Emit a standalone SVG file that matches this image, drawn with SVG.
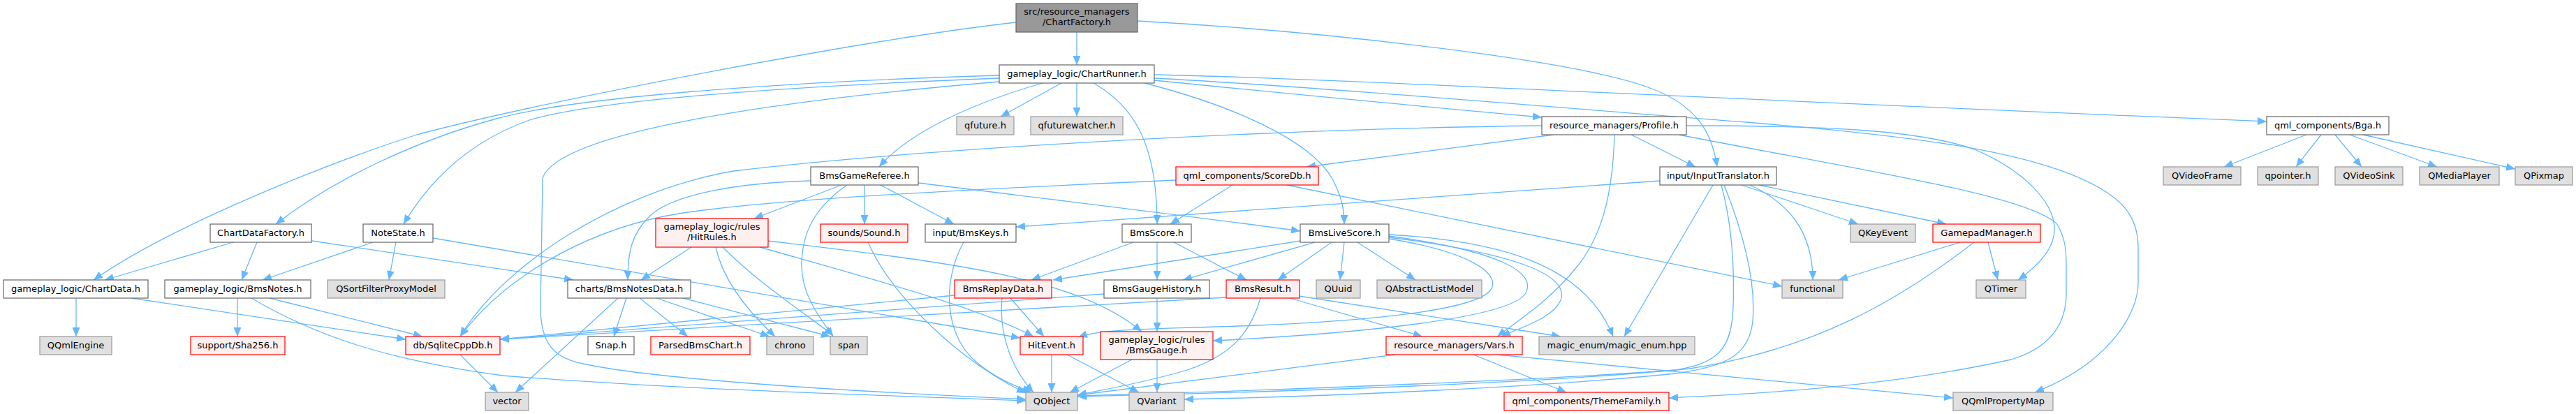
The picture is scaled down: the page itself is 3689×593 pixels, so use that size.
<svg xmlns="http://www.w3.org/2000/svg" width="3689" height="593" viewBox="0 0 3689 593">
<style>
.n rect{fill:#ffffff;stroke:#666666;stroke-width:1.2}
.g rect{fill:#e0e0e0;stroke:#999999;stroke-width:1.2}
.r rect{fill:#fff0f0;stroke:#ff0000;stroke-width:1.2}
.root rect{fill:#999999;stroke:#666666;stroke-width:1.2}
text{font-family:"DejaVu Sans","Liberation Sans",sans-serif;font-size:13px;fill:#000000;text-anchor:middle}
#edges path{fill:none;stroke:#63b8ff;stroke-width:1.3;marker-end:url(#arr)}
</style>
<defs>
<marker id="arr" markerUnits="userSpaceOnUse" viewBox="0 0 13 11" refX="13" refY="5.5" markerWidth="13" markerHeight="11" orient="auto">
<path d="M0,0 L13,5.5 L0,11 z" fill="#63b8ff"/>
</marker>
</defs>
<rect x="0" y="0" width="3689" height="593" fill="#ffffff"/>
<g id="edges">
<path d="M1542,46 L1542,93"/>
<path d="M1455,32 C1250,55 800,140 600,192 C480,230 250,320 134,401"/>
<path d="M1629,30 C1900,45 2250,85 2360,125 C2430,150 2452,190 2459,239"/>
<path d="M1431,108 C1100,118 820,140 711,170 C600,200 480,255 395,321"/>
<path d="M1431,112 C1100,125 850,145 758,172 C680,200 620,250 578,321"/>
<path d="M1431,117 C1100,145 800,190 777,255 L774,445 C776,500 800,515 840,522 C950,545 1250,562 1469,572"/>
<path d="M1493,119 C1420,140 1310,180 1259,239"/>
<path d="M1520,119 L1433,167"/>
<path d="M1542,119 L1542,167"/>
<path d="M1566,119 C1620,150 1657,200 1657,321"/>
<path d="M1653,107 C1900,112 2300,135 3246,174"/>
<path d="M1653,112 C1900,125 2300,160 2500,175 C2750,195 2950,220 3030,285 C3055,305 3062,330 3062,355 L3062,405 C3062,450 3020,520 2914,562"/>
<path d="M1653,115 Q1900,140 2208,168"/>
<path d="M1639,119 C1760,150 1880,200 1910,260 C1922,285 1925,300 1925,321"/>
<path d="M2225,193 L1871,239"/>
<path d="M2312,193 C2310,260 2300,330 2260,380 C2220,430 2180,455 2144,482"/>
<path d="M2336,193 L2428,239"/>
<path d="M2208,180 C1800,185 1300,215 1050,245 C880,275 720,380 659,482"/>
<path d="M2415,180 C2600,180 2750,185 2830,215 C2900,245 2940,290 2942,325 C2944,355 2920,380 2890,401"/>
<path d="M2404,193 C2700,250 2900,280 2945,320 C2958,340 2959,360 2959,380 L2959,420 C2959,470 2930,500 2880,515 C2700,555 2500,565 2390,570"/>
<path d="M1161,259 C1050,262 960,280 930,310 C905,335 899,360 899,401"/>
<path d="M1205,265 L1080,313"/>
<path d="M1213,265 C1170,295 1148,330 1148,380 C1148,420 1170,450 1193,482"/>
<path d="M1238,265 L1238,321"/>
<path d="M1261,265 L1366,321"/>
<path d="M1315,262 C1500,285 1750,315 1862,331"/>
<path d="M1684,258 C1300,275 1050,290 950,310 C830,335 720,400 659,482"/>
<path d="M1765,265 L1676,321"/>
<path d="M1843,265 L2552,410"/>
<path d="M2377,259 L1455,325"/>
<path d="M2453,265 L2326,482"/>
<path d="M2465,265 C2480,320 2484,380 2482,440 C2480,500 2460,520 2400,530 C2200,545 1800,560 1543,567"/>
<path d="M2469,265 C2495,330 2515,400 2510,460 C2505,510 2470,525 2400,535 C2200,555 1900,568 1696,572"/>
<path d="M2494,265 L2661,321"/>
<path d="M2506,265 C2560,290 2596,330 2596,401"/>
<path d="M2519,265 L2787,321"/>
<path d="M2807,347 L2633,401"/>
<path d="M2847,347 L2861,401"/>
<path d="M2827,347 C2720,430 2600,500 2420,528 C2200,550 1800,562 1543,568"/>
<path d="M3303,193 L3185,239"/>
<path d="M3324,193 L3288,239"/>
<path d="M3344,193 L3382,239"/>
<path d="M3365,193 L3490,239"/>
<path d="M3384,193 L3602,242"/>
<path d="M334,347 L150,401"/>
<path d="M368,347 L346,401"/>
<path d="M447,345 L821,401"/>
<path d="M534,347 L376,401"/>
<path d="M567,347 L557,401"/>
<path d="M620,341 L1461,484"/>
<path d="M109,427 L109,482"/>
<path d="M188,427 L581,486"/>
<path d="M340,427 L340,482"/>
<path d="M386,427 L605,482"/>
<path d="M360,427 C450,480 550,515 720,538 C1000,560 1300,567 1469,574"/>
<path d="M990,354 L918,401"/>
<path d="M1025,354 C1035,400 1070,445 1110,482"/>
<path d="M1035,354 C1080,400 1140,440 1193,480"/>
<path d="M1100,345 C1350,375 1540,395 1635,475"/>
<path d="M1088,354 C1250,400 1400,440 1480,482"/>
<path d="M885,427 L738,562"/>
<path d="M897,427 L879,482"/>
<path d="M916,427 L985,482"/>
<path d="M940,427 L1102,482"/>
<path d="M978,427 L1189,482"/>
<path d="M659,508 L713,562"/>
<path d="M1243,347 C1280,430 1380,520 1469,563"/>
<path d="M1380,347 C1350,400 1350,480 1400,520 C1430,545 1460,555 1477,562"/>
<path d="M1623,347 L1477,401"/>
<path d="M1657,347 L1657,401"/>
<path d="M1681,347 L1785,401"/>
<path d="M1862,345 L1508,401"/>
<path d="M1883,347 L1694,401"/>
<path d="M1907,347 L1830,401"/>
<path d="M1925,347 L1919,401"/>
<path d="M1944,347 L2027,401"/>
<path d="M1989,342 C2100,360 2150,390 2135,415 C2110,450 1900,462 1800,466 C1650,472 1580,470 1544,483"/>
<path d="M1989,338 C2150,360 2200,390 2185,420 C2160,460 1900,480 1737,488"/>
<path d="M1989,340 C2150,360 2250,390 2235,430 C2225,455 2180,468 2150,482"/>
<path d="M1989,336 C2150,345 2270,380 2310,482"/>
<path d="M1367,423 L716,486"/>
<path d="M1435,427 C1430,480 1450,530 1480,562"/>
<path d="M1447,427 L1495,482"/>
<path d="M1581,421 L716,486"/>
<path d="M1657,427 L1657,475"/>
<path d="M1756,426 L716,486"/>
<path d="M1805,427 C1790,480 1760,510 1700,530 C1640,548 1580,558 1543,566"/>
<path d="M1847,427 L2037,482"/>
<path d="M1860,424 L2235,482"/>
<path d="M1506,508 L1506,562"/>
<path d="M1528,508 L1631,562"/>
<path d="M1621,515 L1532,562"/>
<path d="M1657,515 L1657,562"/>
<path d="M1998,508 L1543,566"/>
<path d="M2110,508 L2243,562"/>
<path d="M2144,508 L2797,570"/>
</g>
<g id="node-root" class="root"><rect x="1455" y="5" width="174" height="41"/><text x="1542" y="21">src/resource_managers</text><text x="1542" y="36">/ChartFactory.h</text></g>
<g id="node-runner" class="n"><rect x="1431" y="93" width="222" height="26"/><text x="1542" y="110">gameplay_logic/ChartRunner.h</text></g>
<g id="node-qfuture" class="g"><rect x="1370" y="167" width="82" height="26"/><text x="1411" y="184">qfuture.h</text></g>
<g id="node-qfuturewatcher" class="g"><rect x="1476" y="167" width="132" height="26"/><text x="1542" y="184">qfuturewatcher.h</text></g>
<g id="node-profile" class="n"><rect x="2208" y="167" width="207" height="26"/><text x="2311.5" y="184">resource_managers/Profile.h</text></g>
<g id="node-bga" class="n"><rect x="3246" y="167" width="175" height="26"/><text x="3333.5" y="184">qml_components/Bga.h</text></g>
<g id="node-referee" class="n"><rect x="1161" y="239" width="154" height="26"/><text x="1238" y="256">BmsGameReferee.h</text></g>
<g id="node-scoredb" class="r"><rect x="1684" y="239" width="204" height="26"/><text x="1786" y="256">qml_components/ScoreDb.h</text></g>
<g id="node-inputtranslator" class="n"><rect x="2377" y="239" width="167" height="26"/><text x="2460.5" y="256">input/InputTranslator.h</text></g>
<g id="node-qvideoframe" class="g"><rect x="3098" y="239" width="111" height="26"/><text x="3153.5" y="256">QVideoFrame</text></g>
<g id="node-qpointer" class="g"><rect x="3233" y="239" width="87" height="26"/><text x="3276.5" y="256">qpointer.h</text></g>
<g id="node-qvideosink" class="g"><rect x="3344" y="239" width="97" height="26"/><text x="3392.5" y="256">QVideoSink</text></g>
<g id="node-qmediaplayer" class="g"><rect x="3465" y="239" width="114" height="26"/><text x="3522" y="256">QMediaPlayer</text></g>
<g id="node-qpixmap" class="g"><rect x="3602" y="239" width="82" height="26"/><text x="3643" y="256">QPixmap</text></g>
<g id="node-chartdatafactory" class="n"><rect x="301" y="321" width="145" height="26"/><text x="373.5" y="338">ChartDataFactory.h</text></g>
<g id="node-notestate" class="n"><rect x="520" y="321" width="100" height="26"/><text x="570" y="338">NoteState.h</text></g>
<g id="node-hitrules" class="r"><rect x="939" y="313" width="161" height="41"/><text x="1019.5" y="329">gameplay_logic/rules</text><text x="1019.5" y="344">/HitRules.h</text></g>
<g id="node-sound" class="r"><rect x="1175" y="321" width="125" height="26"/><text x="1237.5" y="338">sounds/Sound.h</text></g>
<g id="node-bmskeys" class="n"><rect x="1325" y="321" width="130" height="26"/><text x="1390" y="338">input/BmsKeys.h</text></g>
<g id="node-bmsscore" class="n"><rect x="1607" y="321" width="99" height="26"/><text x="1656.5" y="338">BmsScore.h</text></g>
<g id="node-bmslivescore" class="n"><rect x="1862" y="321" width="127" height="26"/><text x="1925.5" y="338">BmsLiveScore.h</text></g>
<g id="node-qkeyevent" class="g"><rect x="2650" y="321" width="93" height="26"/><text x="2696.5" y="338">QKeyEvent</text></g>
<g id="node-gamepadmanager" class="r"><rect x="2768" y="321" width="154" height="26"/><text x="2845" y="338">GamepadManager.h</text></g>
<g id="node-chartdata" class="n"><rect x="5" y="401" width="207" height="26"/><text x="108.5" y="418">gameplay_logic/ChartData.h</text></g>
<g id="node-bmsnotes" class="n"><rect x="236" y="401" width="209" height="26"/><text x="340.5" y="418">gameplay_logic/BmsNotes.h</text></g>
<g id="node-qsfpm" class="g"><rect x="469" y="401" width="168" height="26"/><text x="553" y="418">QSortFilterProxyModel</text></g>
<g id="node-bmsnotesdata" class="n"><rect x="813" y="401" width="176" height="26"/><text x="901" y="418">charts/BmsNotesData.h</text></g>
<g id="node-bmsreplaydata" class="r"><rect x="1367" y="401" width="139" height="26"/><text x="1436.5" y="418">BmsReplayData.h</text></g>
<g id="node-bmsgaugehistory" class="n"><rect x="1581" y="401" width="151" height="26"/><text x="1656.5" y="418">BmsGaugeHistory.h</text></g>
<g id="node-bmsresult" class="r"><rect x="1756" y="401" width="105" height="26"/><text x="1808.5" y="418">BmsResult.h</text></g>
<g id="node-quuid" class="g"><rect x="1885" y="401" width="63" height="26"/><text x="1916.5" y="418">QUuid</text></g>
<g id="node-qabstractlistmodel" class="g"><rect x="1972" y="401" width="150" height="26"/><text x="2047" y="418">QAbstractListModel</text></g>
<g id="node-functional" class="g"><rect x="2552" y="401" width="87" height="26"/><text x="2595.5" y="418">functional</text></g>
<g id="node-qtimer" class="g"><rect x="2830" y="401" width="71" height="26"/><text x="2865.5" y="418">QTimer</text></g>
<g id="node-qqmlengine" class="g"><rect x="57" y="482" width="103" height="26"/><text x="108.5" y="499">QQmlEngine</text></g>
<g id="node-sha256" class="r"><rect x="273" y="482" width="135" height="26"/><text x="340.5" y="499">support/Sha256.h</text></g>
<g id="node-sqlitecppdb" class="r"><rect x="581" y="482" width="135" height="26"/><text x="648.5" y="499">db/SqliteCppDb.h</text></g>
<g id="node-snap" class="n"><rect x="842" y="482" width="66" height="26"/><text x="875" y="499">Snap.h</text></g>
<g id="node-parsedbmschart" class="r"><rect x="932" y="482" width="142" height="26"/><text x="1003" y="499">ParsedBmsChart.h</text></g>
<g id="node-chrono" class="g"><rect x="1098" y="482" width="67" height="26"/><text x="1131.5" y="499">chrono</text></g>
<g id="node-span" class="g"><rect x="1189" y="482" width="53" height="26"/><text x="1215.5" y="499">span</text></g>
<g id="node-hitevent" class="r"><rect x="1461" y="482" width="90" height="26"/><text x="1506" y="499">HitEvent.h</text></g>
<g id="node-bmsgauge" class="r"><rect x="1576" y="475" width="161" height="40"/><text x="1656.5" y="490.5">gameplay_logic/rules</text><text x="1656.5" y="505.5">/BmsGauge.h</text></g>
<g id="node-vars" class="r"><rect x="1985" y="482" width="195" height="26"/><text x="2082.5" y="499">resource_managers/Vars.h</text></g>
<g id="node-magicenum" class="g"><rect x="2204" y="482" width="223" height="26"/><text x="2315.5" y="499">magic_enum/magic_enum.hpp</text></g>
<g id="node-vector" class="g"><rect x="695" y="562" width="62" height="26"/><text x="726" y="579">vector</text></g>
<g id="node-qobject" class="g"><rect x="1469" y="562" width="74" height="26"/><text x="1506" y="579">QObject</text></g>
<g id="node-qvariant" class="g"><rect x="1617" y="562" width="79" height="26"/><text x="1656.5" y="579">QVariant</text></g>
<g id="node-themefamily" class="r"><rect x="2154" y="562" width="236" height="26"/><text x="2272" y="579">qml_components/ThemeFamily.h</text></g>
<g id="node-qqmlpropertymap" class="g"><rect x="2797" y="562" width="143" height="26"/><text x="2868.5" y="579">QQmlPropertyMap</text></g>
</svg>
